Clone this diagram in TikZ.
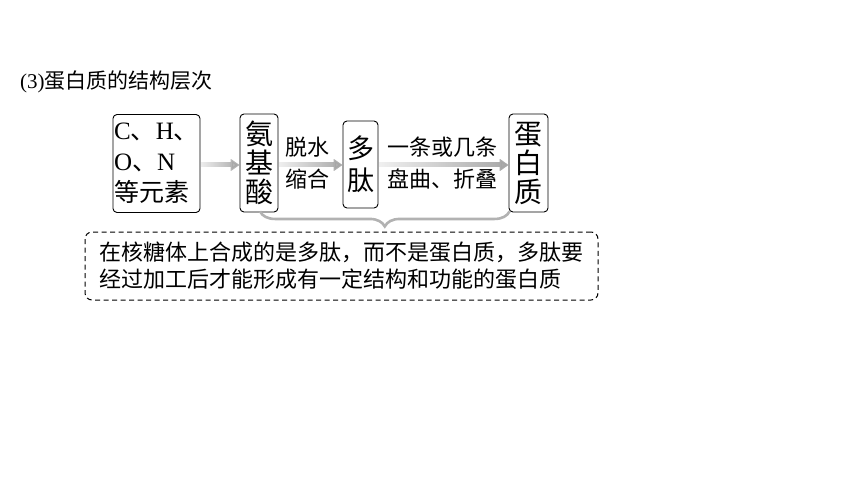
\documentclass[tikz,border=0pt]{standalone}
\usepackage{fontspec}
\setmainfont{Liberation Serif}
\newfontfamily\cjk{Noto Sans CJK SC}
\usetikzlibrary{positioning,calc,arrows.meta,fadings,decorations.pathreplacing}

\tikzfading[name=fadein, left color=transparent!85, right color=transparent!0]

\begin{document}
\begin{tikzpicture}[x=1pt, y=-1pt, every node/.style={font=\cjk\fontsize{22}{29}\selectfont},
    box/.style={draw, rounded corners=4pt, line width=0.9pt, inner sep=0pt, align=center},
    conn/.style={-{Triangle[length=9pt,width=12pt]}, line width=5pt, gray!70, path fading=fadein, shorten <=0.5pt},
    lbl/.style={inner sep=0pt}]
  \useasboundingbox (0,0) rectangle (860,484);

  \node[anchor=west, inner sep=0pt, font=\cjk\fontsize{21}{25}\selectfont] (title) at (20,82) {{\rmfamily(3)}蛋白质的结构层次};

  \node[box, minimum width=87pt, minimum height=98pt, align=left, font=\cjk\fontsize{25}{31}\selectfont] (elem) at (156.5,163.5)
    {{\rmfamily C}、{\rmfamily H}、\\{\rmfamily O}、{\rmfamily N}\\等元素};
  \node[box, minimum width=38pt, minimum height=98pt, font=\cjk\fontsize{28}{29}\selectfont] (amino) at (259,163) {氨\\基\\酸};
  \node[box, minimum width=35pt, minimum height=87pt, font=\cjk\fontsize{27}{32}\selectfont] (pept) at (360.5,164.5) {多\\肽};
  \node[box, minimum width=39pt, minimum height=98pt, font=\cjk\fontsize{28}{29}\selectfont] (prot) at (528.5,163) {蛋\\白\\质};

  \draw[conn] (elem.east |- 0,165) -- (amino.west |- 0,165);
  \draw[conn] (amino.east |- 0,165) -- (pept.west |- 0,165);
  \draw[conn] (pept.east |- 0,165) -- (prot.west |- 0,165);

  \node[lbl] (dehyd) at (307,147) {脱水};
  \node[lbl, below=11pt of dehyd] (cond) {缩合};
  \node[lbl] (chains) at (442,147) {一条或几条};
  \node[lbl, below=11pt of chains] (fold) {盘曲、折叠};

  % brace over the synthesis steps
  \draw[gray!60, line width=2.6pt, decorate, decoration={brace, mirror, amplitude=15pt}]
    ($(amino.south)+(1,-1)$) -- ($(prot.south west)+(1,-1)$);

  \node[draw, dash pattern=on 5pt off 3.5pt, rounded corners=7pt, line width=1pt, minimum width=513pt, minimum height=68pt,
    align=left, inner sep=0pt, font=\cjk\fontsize{22}{27}\selectfont] (note) at (341.5,266)
    {在核糖体上合成的是多肽，而不是蛋白质，多肽要\\经过加工后才能形成有一定结构和功能的蛋白质};
\end{tikzpicture}
\end{document}
